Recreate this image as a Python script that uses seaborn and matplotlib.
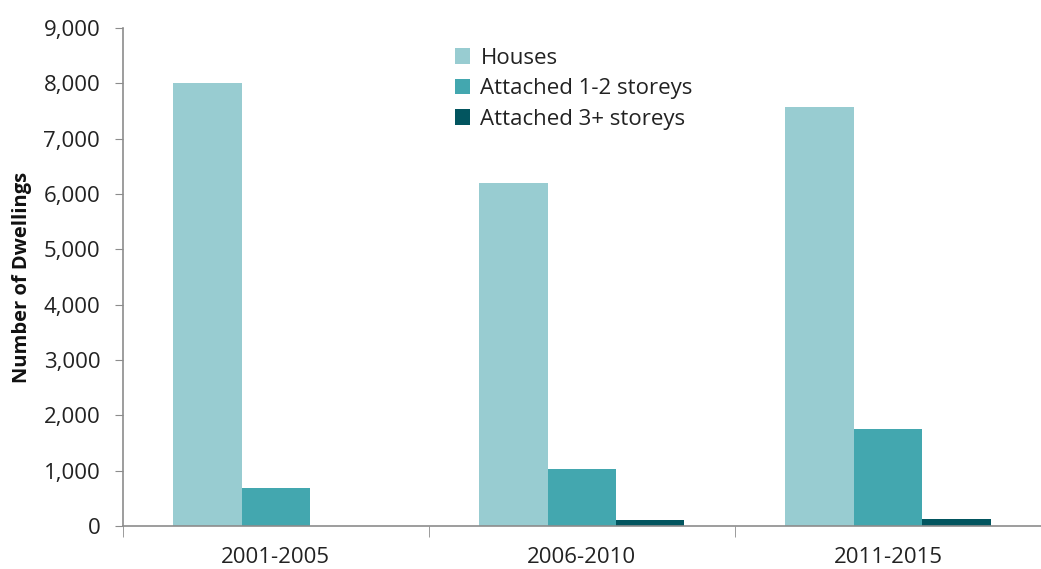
import matplotlib
matplotlib.use("Agg")
import matplotlib.pyplot as plt
import matplotlib.ticker as mticker
import seaborn as sns
import pandas as pd

periods = ["2001-2005", "2006-2010", "2011-2015"]
dwelling_types = ["Houses", "Attached 1-2 storeys", "Attached 3+ storeys"]
houses = [8000, 6200, 7570]
attached_low = [690, 1030, 1750]
attached_high = [0, 100, 120]
palette = ["#98CCD1", "#43A7AF", "#02555F"]

df = pd.DataFrame({
    "Period": periods * 3,
    "Type": [t for t in dwelling_types for _ in periods],
    "Dwellings": houses + attached_low + attached_high,
})

sns.set_style("white")
plt.rcParams["font.family"] = ["Open Sans", "DejaVu Sans"]

fig = plt.figure(figsize=(10.41, 5.69), dpi=100)
ax = fig.add_axes([0.118, 0.0756, 0.882, 0.8752])

sns.barplot(data=df, x="Period", y="Dwellings", hue="Type", order=periods,
            hue_order=dwelling_types, palette=palette, width=0.67,
            saturation=1, linewidth=0, ax=ax, legend=True)

ax.set_ylim(0, 9000)
ax.set_xlim(-0.5, 2.5)
ax.yaxis.set_major_locator(mticker.MultipleLocator(1000))
ax.yaxis.set_major_formatter(mticker.FuncFormatter(lambda v, p: f"{int(v):,}"))
ax.tick_params(axis="y", labelsize=16, colors="#222222", length=5.8, color="#8C8C8C",
               direction="out", left=True, pad=10.5)
ax.tick_params(axis="x", which="major", labelsize=16, colors="#222222", length=0, pad=15)
ax.set_xticks([-0.5, 0.5, 1.5, 2.5], minor=True)
ax.tick_params(axis="x", which="minor", length=8, color="#8C8C8C", bottom=True)

ax.set_xlabel("")
ax.set_ylabel("Number of Dwellings", fontsize=14.5, fontweight="bold", color="#111111", labelpad=8)

for side in ["top", "right"]:
    ax.spines[side].set_visible(False)
for side in ["left", "bottom"]:
    ax.spines[side].set_color("#8C8C8C")
    ax.spines[side].set_linewidth(1.2)

leg = ax.legend(loc="upper left", bbox_to_anchor=(0.352, 0.978), frameon=False,
                fontsize=16, handlelength=0.7, handleheight=0.7,
                handletextpad=0.45, labelspacing=0.43, borderaxespad=0)
for t in leg.get_texts():
    t.set_color("#222222")

fig.savefig("out.png", dpi=100)
